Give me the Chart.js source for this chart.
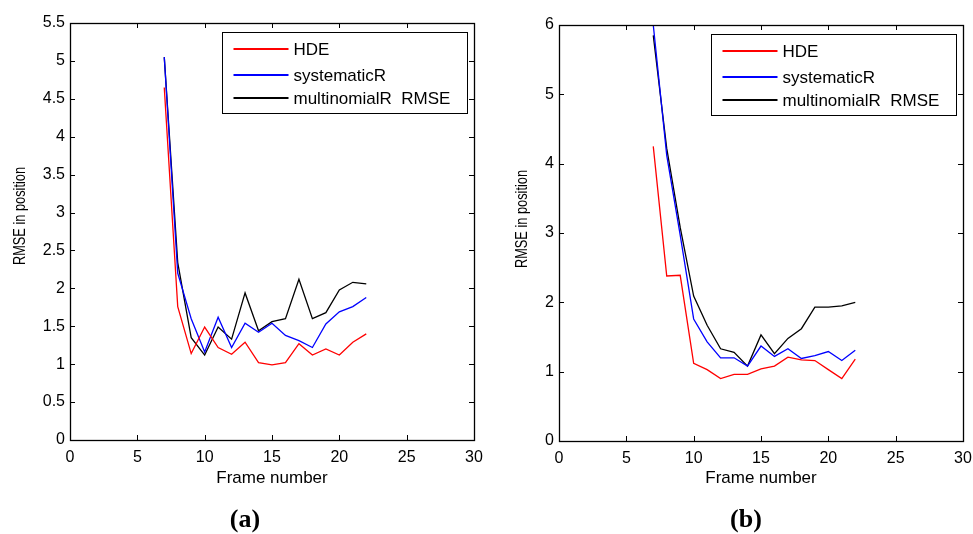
<!DOCTYPE html>
<html>
<head>
<meta charset="utf-8">
<script src="https://cdn.jsdelivr.net/npm/chart.js@4.4.1/dist/chart.umd.min.js"></script>
<style>
  html, body { margin: 0; padding: 0; background: #fff; }
  body { width: 973px; height: 534px; position: relative; overflow: hidden; }
  canvas { position: absolute; top: 0; }
  #ca { left: 0; }
  #cb { left: 486px; }
  .cap { position: absolute; top: 519px; transform: translate(-50%, -50%);
         font-family: "Liberation Serif", "Times New Roman", serif; font-weight: bold;
         font-size: 26px; line-height: 1; color: #000; white-space: nowrap; }
</style>
</head>
<body>
<canvas id="ca" width="486" height="534"></canvas>
<canvas id="cb" width="487" height="534"></canvas>
<div class="cap" style="left:245px">(a)</div>
<div class="cap" style="left:746px">(b)</div>
<script>
// ---- data ----
const frames = [7, 8, 9, 10, 11, 12, 13, 14, 15, 16, 17, 18, 19, 20, 21, 22];
const seriesLabels = ['HDE', 'systematicR', 'multinomialR  RMSE'];
const seriesColors = ['#ff0000', '#0000ff', '#000000'];

const hdeA = [4.65, 1.76, 1.14, 1.49, 1.22, 1.13, 1.29, 1.02, 0.99, 1.02, 1.27, 1.12, 1.20, 1.12, 1.29, 1.40];
const sysA = [5.05, 2.20, 1.60, 1.16, 1.62, 1.22, 1.54, 1.42, 1.54, 1.38, 1.31, 1.22, 1.53, 1.69, 1.76, 1.88];
const mulA = [5.05, 2.34, 1.35, 1.12, 1.49, 1.33, 1.94, 1.44, 1.56, 1.60, 2.12, 1.60, 1.68, 1.98, 2.08, 2.06];

const hdeB = [4.25, 2.38, 2.39, 1.12, 1.03, 0.90, 0.96, 0.96, 1.04, 1.08, 1.21, 1.17, 1.16, 1.03, 0.90, 1.18];
const sysB = [6.00, 4.12, 2.97, 1.76, 1.43, 1.20, 1.20, 1.08, 1.37, 1.22, 1.33, 1.19, 1.23, 1.29, 1.16, 1.31];
const mulB = [5.85, 4.22, 3.08, 2.09, 1.67, 1.33, 1.28, 1.08, 1.53, 1.26, 1.48, 1.62, 1.93, 1.93, 1.95, 2.00];

const xLabel = 'Frame number';
const yLabel = 'RMSE in position';

// ---- rendering ----
const FONT = '"Liberation Sans", Arial, Helvetica, sans-serif';
Chart.defaults.font.family = FONT;
Chart.defaults.color = '#000';
Chart.defaults.animation = false;

function mkData(arrs) {
  return arrs.map((vals, i) => ({
    label: seriesLabels[i],
    data: frames.map((f, j) => ({ x: f, y: vals[j] })),
    borderColor: seriesColors[i],
    backgroundColor: seriesColors[i],
    borderWidth: 1.3,
    pointRadius: 0,
    tension: 0,
    fill: false
  }));
}

// MATLAB-like box, inward ticks, y title and boxed legend
const matlabPlugin = {
  id: 'matlab',
  afterDraw(chart, args, opts) {
    const { ctx, chartArea: a, scales } = chart;
    const L = 5;
    ctx.save();
    ctx.strokeStyle = '#000';
    ctx.lineWidth = 1;
    ctx.beginPath();
    scales.x.ticks.forEach(t => {
      const px = Math.round(scales.x.getPixelForValue(t.value)) + 0.5;
      ctx.moveTo(px, a.bottom); ctx.lineTo(px, a.bottom - L);
      ctx.moveTo(px, a.top); ctx.lineTo(px, a.top + L);
    });
    scales.y.ticks.forEach(t => {
      const py = Math.round(scales.y.getPixelForValue(t.value)) + 0.5;
      ctx.moveTo(a.left, py); ctx.lineTo(a.left + L, py);
      ctx.moveTo(a.right, py); ctx.lineTo(a.right - L, py);
    });
    ctx.stroke();
    ctx.lineWidth = 1.3;
    ctx.strokeRect(Math.round(a.left) + 0.5, Math.round(a.top) + 0.5,
                   Math.round(a.right - a.left), Math.round(a.bottom - a.top));

    // y-axis title (rotated, slightly condensed along its length like the source)
    ctx.save();
    ctx.translate(opts.yTitleX, opts.yTitleY);
    ctx.rotate(-Math.PI / 2);
    ctx.scale(0.8, 1);
    ctx.font = '16px ' + FONT;
    ctx.fillStyle = '#000';
    ctx.textAlign = 'center';
    ctx.textBaseline = 'middle';
    ctx.fillText(yLabel, 0, 0);
    ctx.restore();

    // legend box
    ctx.lineWidth = 1;
    const bx = Math.round(a.left + 152) + 0.5, by = Math.round(a.top + 9) + 0.5;
    const bw = 245, bh = 81;
    ctx.fillStyle = '#fff';
    ctx.fillRect(bx, by, bw, bh);
    ctx.strokeStyle = '#000';
    ctx.strokeRect(bx, by, bw, bh);
    const rows = [16, 42, 65.5];
    ctx.font = '17px ' + FONT;
    ctx.textBaseline = 'middle';
    ctx.textAlign = 'left';
    chart.data.datasets.forEach((ds, i) => {
      const y = Math.round(by + rows[i]);
      ctx.strokeStyle = seriesColors[i];
      ctx.lineWidth = 2;
      ctx.beginPath();
      ctx.moveTo(bx + 11, y); ctx.lineTo(bx + 66, y);
      ctx.stroke();
      ctx.fillStyle = '#000';
      ctx.fillText(ds.label, bx + 71, y + 1);
    });
    ctx.restore();
  }
};

function makeChart(id, arrs, yMax, yStep, cfg) {
  return new Chart(document.getElementById(id), {
    type: 'line',
    data: { datasets: mkData(arrs) },
    plugins: [matlabPlugin],
    options: {
      responsive: false,
      animation: false,
      layout: { padding: { left: 0, right: cfg.padRight, top: cfg.padTop, bottom: 0 } },
      plugins: {
        legend: { display: false },
        tooltip: { enabled: false },
        matlab: { yTitleX: cfg.yTitleX, yTitleY: cfg.yTitleY }
      },
      scales: {
        x: {
          type: 'linear', min: 0, max: 30,
          ticks: { stepSize: 5, padding: 0, font: { size: 16 }, color: '#000', maxRotation: 0,
                   callback: v => String(v) },
          grid: { display: false },
          border: { display: false },
          title: { display: true, text: xLabel, font: { size: 17 }, color: '#000',
                   padding: { top: 0, bottom: 45 } },
          afterFit(s) { s.height = cfg.xHeight; }
        },
        y: {
          type: 'linear', min: 0, max: yMax,
          ticks: { stepSize: yStep, padding: 5, font: { size: 16 }, color: '#000',
                   callback: v => String(Math.round(v * 10) / 10) },
          grid: { display: false, drawTicks: false },
          border: { display: false },
          title: { display: false },
          afterFit(s) { s.width = cfg.yWidth; }
        }
      }
    }
  });
}

makeChart('ca', [hdeA, sysA, mulA], 5.5, 0.5,
  { padRight: 12, padTop: 23, xHeight: 94, yWidth: 70, yTitleX: 21, yTitleY: 216 });
makeChart('cb', [hdeB, sysB, mulB], 6, 1,
  { padRight: 10, padTop: 25, xHeight: 93, yWidth: 73, yTitleX: 37, yTitleY: 219 });
</script>
</body>
</html>
